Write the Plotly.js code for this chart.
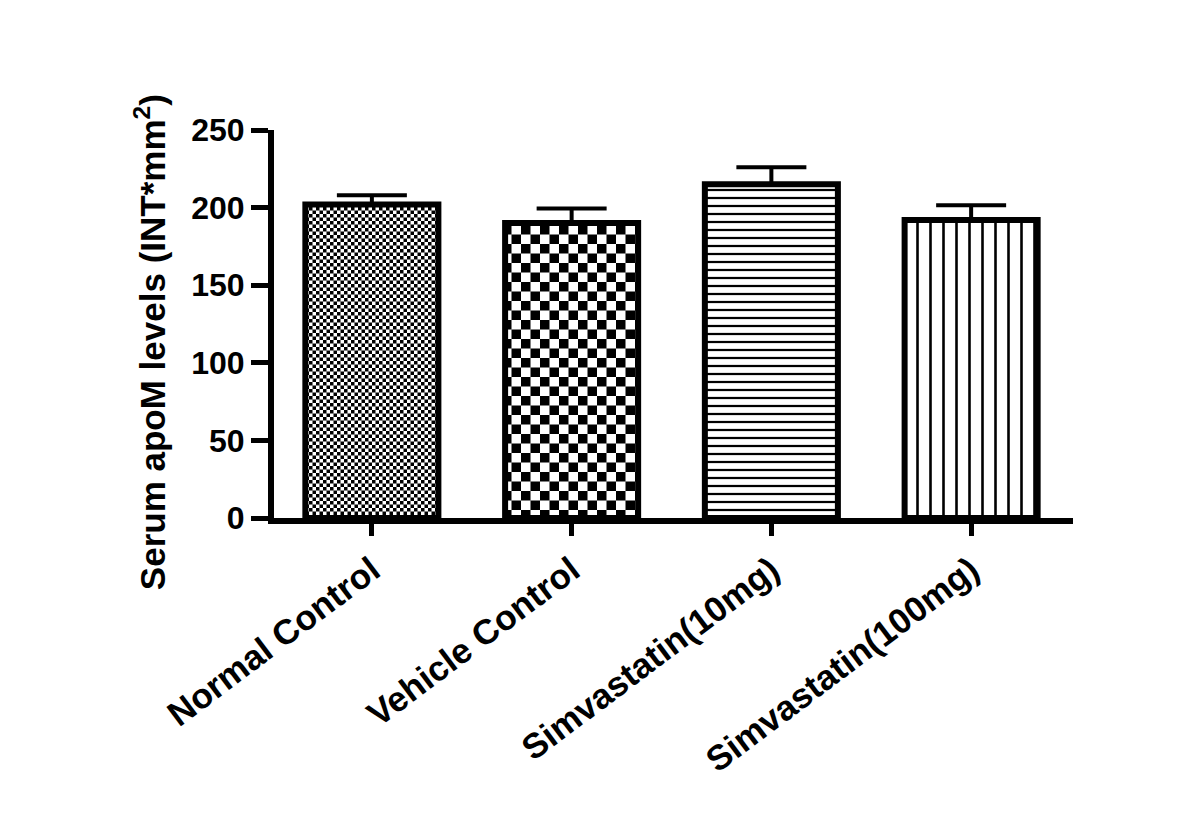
<!DOCTYPE html>
<html>
<head>
<meta charset="utf-8">
<script src="https://cdn.plot.ly/plotly-3.0.1.min.js"></script>
<style>html,body{margin:0;padding:0;background:#fff;}#chart{width:1200px;height:829px;}</style>
</head>
<body>
<div id="chart"></div>
<script>
const categories = ["Normal Control", "Vehicle Control", "Simvastatin(10mg)", "Simvastatin(100mg)"];
const values = [202, 190, 215, 192];
const errors = [6, 9.5, 11, 9.5];
const yTickVals = [0, 50, 100, 150, 200, 250];
const yTitle = "Serum apoM levels (INT*mm<sup>2</sup>)";

const patterns = [
  {path: "M0,0H3.5V3.5H0Z M3.5,3.5H7V7H3.5Z", size: 7},
  {path: "M0,0H9.5V9.5H0Z M9.5,9.5H19V19H9.5Z", size: 19},
  {shape: "-", size: 8, solidity: 0.28},
  {shape: "|", size: 13, solidity: 0.2}
];

const FONT = "Liberation Sans, Arial, Helvetica, sans-serif";

const traces = categories.map((c, i) => ({
  type: "bar",
  x: [c],
  y: [values[i]],
  marker: {
    color: "white",
    line: {color: "black", width: 6},
    pattern: Object.assign({fgcolor: "black", bgcolor: "white", fillmode: "replace"}, patterns[i])
  },
  error_y: {
    type: "data",
    symmetric: false,
    array: [errors[i]],
    arrayminus: [0],
    color: "black",
    thickness: 4,
    width: 35
  },
  showlegend: false,
  hoverinfo: "x+y"
}));

const layout = {
  width: 1200,
  height: 829,
  margin: {l: 274, r: 127, t: 130, b: 311},
  paper_bgcolor: "white",
  plot_bgcolor: "white",
  barmode: "overlay",
  bargap: 0.334,
  showlegend: false,
  font: {family: FONT, color: "black"},
  xaxis: {
    type: "category",
    categoryorder: "array",
    categoryarray: categories,
    range: [-0.49, 3.51],
    showline: true,
    linecolor: "black",
    linewidth: 6,
    ticks: "outside",
    ticklen: 12,
    tickwidth: 5,
    tickcolor: "black",
    tickangle: -37,
    tickfont: {family: FONT, size: 35, weight: "bold", color: "black"},
    showgrid: false,
    zeroline: false
  },
  yaxis: {
    range: [0, 250],
    tickmode: "array",
    tickvals: yTickVals,
    ticktext: yTickVals.map(String),
    showline: true,
    linecolor: "black",
    linewidth: 6,
    ticks: "outside",
    ticklen: 17,
    tickwidth: 5,
    tickcolor: "black",
    tickfont: {family: FONT, size: 32, weight: "bold", color: "black"},
    showgrid: false,
    zeroline: false
  },
  annotations: [{
    text: yTitle,
    xref: "paper", yref: "paper",
    x: -0.155, y: 0.4536,
    xanchor: "center", yanchor: "middle",
    textangle: -90,
    showarrow: false,
    font: {family: FONT, size: 35, weight: "bold", color: "black"}
  }]
};

Plotly.newPlot("chart", traces, layout, {displayModeBar: false, staticPlot: true});
</script>
</body>
</html>
